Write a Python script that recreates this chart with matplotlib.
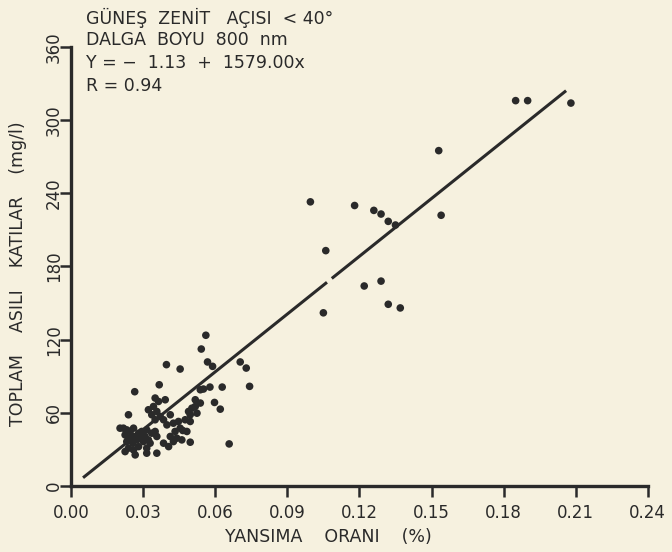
import matplotlib
matplotlib.use("Agg")
import matplotlib.pyplot as plt
import numpy as np

# Data
x_vals = [0.0561, 0.0542, 0.0568, 0.0589, 0.0397, 0.0454, 0.0704, 0.0729, 0.0743,
          0.0367, 0.0265, 0.0578, 0.0629, 0.0597, 0.0621, 0.0658, 0.0496, 0.0239,
          0.0350, 0.0364, 0.0343, 0.0357, 0.0322, 0.0336, 0.0350, 0.0371, 0.0385,
          0.0392, 0.0413, 0.0399, 0.0426, 0.0447, 0.0454, 0.0433, 0.0413, 0.0440,
          0.0461, 0.0426, 0.0385, 0.0406,
          0.0489, 0.0503, 0.0517, 0.0496, 0.0524, 0.0475, 0.0496, 0.0538, 0.0551,
          0.0517, 0.0538, 0.0482, 0.0465,
          0.0218, 0.0232, 0.0204, 0.0246, 0.0260, 0.0225, 0.0239, 0.0260, 0.0281,
          0.0288, 0.0294, 0.0315, 0.0308, 0.0301, 0.0322, 0.0336, 0.0350, 0.0357,
          0.0329, 0.0315, 0.0281, 0.0260, 0.0239, 0.0225, 0.0267, 0.0315, 0.0357,
          0.0257, 0.0232, 0.0274,
          0.0996, 0.1180, 0.1260, 0.1290, 0.1320, 0.1350, 0.1060, 0.1530, 0.1540,
          0.1850, 0.1900, 0.2080, 0.1050, 0.1220, 0.1290, 0.1320, 0.1370]
y_vals = [123.6, 112.3, 101.7, 98.1, 99.5, 95.9, 101.7, 96.7, 81.7,
          83.0, 77.3, 81.1, 81.1, 68.5, 63.0, 34.5, 35.9, 58.4,
          72.1, 69.3, 65.2, 61.1, 62.5, 58.4, 54.3, 57.0, 54.3,
          70.7, 58.4, 50.1, 51.5, 52.9, 47.4, 44.7, 40.6, 39.2,
          37.8, 36.4, 35.1, 32.3,
          61.1, 63.8, 65.2, 58.4, 59.7, 54.3, 52.9, 78.9, 79.5,
          70.7, 68.0, 44.7, 45.5,
          47.4, 46.0, 47.4, 44.7, 47.4, 41.9, 39.2, 40.6, 43.3,
          40.6, 44.7, 46.0, 40.6, 36.4, 37.8, 43.3, 44.7, 40.6,
          35.1, 31.0, 32.3, 29.6, 31.0, 28.2, 25.5, 26.9, 26.9,
          35.1, 36.4, 37.8,
          233.0, 230.0, 226.0, 223.0, 217.0, 214.0, 193.0, 275.0, 222.0,
          316.0, 316.0, 314.0, 142.0, 164.0, 168.0, 149.0, 146.0]

intercept = -1.13
slope = 1579.00
line_segments = [(0.005, 0.1065), (0.1085, 0.206)]

x_ticks = [0.00, 0.03, 0.06, 0.09, 0.12, 0.15, 0.18, 0.21, 0.24]
x_tick_labels = ["0.00", "0.03", "0.06", "0.09", "0.12", "0.15", "0.18", "0.21", "0.24"]
y_ticks = [0, 60, 120, 180, 240, 300, 360]
y_tick_labels = ["0", "60", "120", "180", "240", "300", "360"]

annotation_lines = ["GÜNEŞ  ZENİT   AÇISI  < 40°", "DALGA  BOYU  800  nm",
                    "Y = −  1.13  +  1579.00x", "R = 0.94"]

bg = "#f6f1df"
ink = "#2a2a2a"

fig = plt.figure(figsize=(6.72, 5.52), dpi=100, facecolor=bg)
ax = fig.add_axes([0.1057, 0.1196, 0.8583, 0.7953], facecolor=bg)

ax.scatter(x_vals, y_vals, s=30, color=ink, edgecolors="none", zorder=3, clip_on=False)
for a, b in line_segments:
    xs = np.array([a, b])
    ax.plot(xs, intercept + slope * xs, color=ink, lw=2.2, solid_capstyle="butt", zorder=2)

ax.set_xlim(0, 0.24)
ax.set_ylim(0, 360)
for s in ["top", "right"]:
    ax.spines[s].set_visible(False)
for s in ["left", "bottom"]:
    ax.spines[s].set_linewidth(2.4)
    ax.spines[s].set_color(ink)

ax.set_xticks(x_ticks)
ax.set_xticklabels(x_tick_labels)
ax.set_yticks(y_ticks)
ax.set_yticklabels(y_tick_labels, rotation=90, va="center")
ax.tick_params(axis="both", direction="out", length=8, width=1.8, color=ink,
               labelsize=12, labelcolor=ink)
ax.tick_params(axis="y", pad=-2)
ax.tick_params(axis="x", pad=5)

fig.text(0.488, 0.027, "YANSIMA    ORANI    (%)", ha="center", va="center",
         fontsize=12.5, color=ink)
fig.text(0.027, 0.505, "TOPLAM    ASILI    KATILAR    (mg/l)", ha="center", va="center",
         rotation=90, fontsize=12.5, color=ink)

for i, t in enumerate(annotation_lines):
    fig.text(0.128, 0.968 - i * 0.041, t, ha="left", va="center", fontsize=12.5,
             color=ink)

fig.savefig("out.png", dpi=100, facecolor=bg)
